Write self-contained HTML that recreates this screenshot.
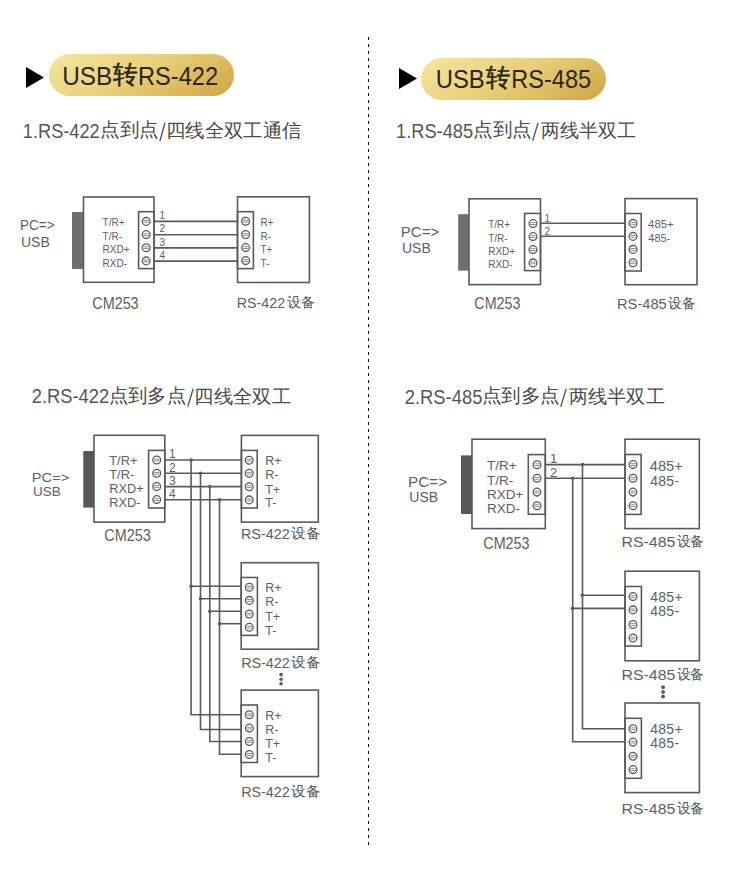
<!DOCTYPE html>
<html><head><meta charset="utf-8">
<style>
html,body{margin:0;padding:0;background:#fff;}
body{width:737px;height:875px;position:relative;overflow:hidden;font-family:"Liberation Sans",sans-serif;}
svg{position:absolute;left:0;top:0;}
svg text{font-family:"Liberation Sans",sans-serif;}
</style></head><body>
<svg width="737" height="875" viewBox="0 0 737 875">
<defs>
<linearGradient id="gold" x1="0" y1="0.3" x2="1" y2="0.7">
<stop offset="0" stop-color="#f3e29a"/>
<stop offset="0.5" stop-color="#e8ce76"/>
<stop offset="1" stop-color="#d3ab4b"/>
</linearGradient>
</defs>
<polygon points="26,67 44,77.5 26,88" fill="#000"/>
<rect x="49" y="54" width="185" height="42" rx="21" fill="url(#gold)"/>
<text x="62.25" y="84.65" font-size="26.5" fill="#2a2618" textLength="50.05" lengthAdjust="spacingAndGlyphs" >USB</text>
<text x="112.70" y="83.05" font-size="24.5" fill="#2a2618" textLength="24.70" lengthAdjust="spacingAndGlyphs" stroke="#2a2618" stroke-width="0.5">转</text>
<text x="138.00" y="84.65" font-size="26.5" fill="#2a2618" textLength="80.11" lengthAdjust="spacingAndGlyphs" >RS-422</text>
<polygon points="399,68 417,78.5 399,89" fill="#000"/>
<rect x="421" y="58" width="185" height="42" rx="21" fill="url(#gold)"/>
<text x="435.75" y="87.65" font-size="26.5" fill="#2a2618" textLength="49.00" lengthAdjust="spacingAndGlyphs" >USB</text>
<text x="485.80" y="86.40" font-size="24.5" fill="#2a2618" textLength="24.35" lengthAdjust="spacingAndGlyphs" stroke="#2a2618" stroke-width="0.5">转</text>
<text x="511.35" y="87.65" font-size="26.5" fill="#2a2618" textLength="79.71" lengthAdjust="spacingAndGlyphs" >RS-485</text>
<text x="22.85" y="137.70" font-size="20" fill="#555" textLength="76.90" lengthAdjust="spacingAndGlyphs" >1.RS-422</text>
<text x="99.95" y="135.65" font-size="19" fill="#4a4a4a" textLength="58.80" lengthAdjust="spacingAndGlyphs" >点到点</text>
<line x1="165.0" y1="122.7" x2="159.9" y2="141.0" stroke="#555" stroke-width="1.35"/>
<text x="165.85" y="136.80" font-size="19" fill="#4a4a4a" textLength="135.85" lengthAdjust="spacingAndGlyphs" >四线全双工通信</text>
<text x="396.00" y="137.65" font-size="20" fill="#555" textLength="77.10" lengthAdjust="spacingAndGlyphs" >1.RS-485</text>
<text x="473.00" y="135.65" font-size="19" fill="#4a4a4a" textLength="58.80" lengthAdjust="spacingAndGlyphs" >点到点</text>
<line x1="538.1" y1="122.7" x2="532.7" y2="140.8" stroke="#555" stroke-width="1.35"/>
<text x="540.70" y="136.55" font-size="19" fill="#4a4a4a" textLength="95.25" lengthAdjust="spacingAndGlyphs" >两线半双工</text>
<text x="31.85" y="403.35" font-size="20" fill="#555" textLength="77.30" lengthAdjust="spacingAndGlyphs" >2.RS-422</text>
<text x="108.55" y="401.80" font-size="19" fill="#4a4a4a" textLength="77.55" lengthAdjust="spacingAndGlyphs" >点到多点</text>
<line x1="193.2" y1="388.7" x2="187.8" y2="406.5" stroke="#555" stroke-width="1.35"/>
<text x="194.20" y="402.70" font-size="19" fill="#4a4a4a" textLength="96.90" lengthAdjust="spacingAndGlyphs" >四线全双工</text>
<text x="404.80" y="403.65" font-size="20" fill="#555" textLength="77.55" lengthAdjust="spacingAndGlyphs" >2.RS-485</text>
<text x="481.55" y="401.95" font-size="19" fill="#4a4a4a" textLength="78.35" lengthAdjust="spacingAndGlyphs" >点到多点</text>
<line x1="566.1" y1="388.7" x2="560.8" y2="406.9" stroke="#555" stroke-width="1.35"/>
<text x="568.70" y="402.85" font-size="19" fill="#4a4a4a" textLength="96.20" lengthAdjust="spacingAndGlyphs" >两线半双工</text>
<line x1="368.5" y1="37" x2="368.5" y2="848" stroke="#111" stroke-width="1.1" stroke-dasharray="3 4"/>
<text x="20.00" y="230.20" font-size="14" fill="#606060" textLength="34.56" lengthAdjust="spacingAndGlyphs" >PC=&gt;</text>
<text x="21" y="246.5" font-size="14" fill="#606060" >USB</text>
<rect x="72" y="212" width="11.5" height="57" fill="#6e6e6e"/>
<rect x="83.5" y="197" width="70.5" height="85.30000000000001" fill="none" stroke="#5a5a5a" stroke-width="1.6"/>
<rect x="138.6" y="211.7" width="15.400000000000006" height="56.900000000000034" fill="none" stroke="#5a5a5a" stroke-width="1.6"/>
<circle cx="146.2" cy="221.4" r="3.9" fill="#fff" stroke="#5a5a5a" stroke-width="1.3"/>
<line x1="143.5" y1="220.5" x2="148.89999999999998" y2="220.5" stroke="#707070" stroke-width="0.8"/>
<line x1="143.5" y1="222.3" x2="148.89999999999998" y2="222.3" stroke="#707070" stroke-width="0.8"/>
<circle cx="146.2" cy="234.6" r="3.9" fill="#fff" stroke="#5a5a5a" stroke-width="1.3"/>
<line x1="143.5" y1="233.7" x2="148.89999999999998" y2="233.7" stroke="#707070" stroke-width="0.8"/>
<line x1="143.5" y1="235.5" x2="148.89999999999998" y2="235.5" stroke="#707070" stroke-width="0.8"/>
<circle cx="146.2" cy="247.7" r="3.9" fill="#fff" stroke="#5a5a5a" stroke-width="1.3"/>
<line x1="143.5" y1="246.79999999999998" x2="148.89999999999998" y2="246.79999999999998" stroke="#707070" stroke-width="0.8"/>
<line x1="143.5" y1="248.6" x2="148.89999999999998" y2="248.6" stroke="#707070" stroke-width="0.8"/>
<circle cx="146.2" cy="260.9" r="3.9" fill="#fff" stroke="#5a5a5a" stroke-width="1.3"/>
<line x1="143.5" y1="260.0" x2="148.89999999999998" y2="260.0" stroke="#707070" stroke-width="0.8"/>
<line x1="143.5" y1="261.79999999999995" x2="148.89999999999998" y2="261.79999999999995" stroke="#707070" stroke-width="0.8"/>
<text x="102.6" y="226" font-size="10" fill="#606060" >T/R+</text>
<text x="102.6" y="239.5" font-size="10" fill="#606060" >T/R-</text>
<text x="102.6" y="253" font-size="10" fill="#606060" >RXD+</text>
<text x="102.6" y="266.6" font-size="10" fill="#606060" >RXD-</text>
<text x="159.5" y="219.1" font-size="10" fill="#606060" >1</text>
<text x="159.5" y="232.3" font-size="10" fill="#606060" >2</text>
<text x="159.5" y="245.5" font-size="10" fill="#606060" >3</text>
<text x="159.5" y="258.7" font-size="10" fill="#606060" >4</text>
<line x1="154" y1="221.4" x2="237.5" y2="221.4" stroke="#5a5a5a" stroke-width="1.6"/>
<line x1="154" y1="234.7" x2="237.5" y2="234.7" stroke="#5a5a5a" stroke-width="1.6"/>
<line x1="154" y1="247.9" x2="237.5" y2="247.9" stroke="#5a5a5a" stroke-width="1.6"/>
<line x1="154" y1="261.1" x2="237.5" y2="261.1" stroke="#5a5a5a" stroke-width="1.6"/>
<rect x="237.5" y="196.8" width="71.89999999999998" height="85.69999999999999" fill="none" stroke="#5a5a5a" stroke-width="1.6"/>
<rect x="237.5" y="211.7" width="15.900000000000006" height="56.900000000000034" fill="none" stroke="#5a5a5a" stroke-width="1.6"/>
<circle cx="245.6" cy="221.3" r="3.9" fill="#fff" stroke="#5a5a5a" stroke-width="1.3"/>
<line x1="242.9" y1="220.4" x2="248.29999999999998" y2="220.4" stroke="#707070" stroke-width="0.8"/>
<line x1="242.9" y1="222.20000000000002" x2="248.29999999999998" y2="222.20000000000002" stroke="#707070" stroke-width="0.8"/>
<circle cx="245.6" cy="234.5" r="3.9" fill="#fff" stroke="#5a5a5a" stroke-width="1.3"/>
<line x1="242.9" y1="233.6" x2="248.29999999999998" y2="233.6" stroke="#707070" stroke-width="0.8"/>
<line x1="242.9" y1="235.4" x2="248.29999999999998" y2="235.4" stroke="#707070" stroke-width="0.8"/>
<circle cx="245.6" cy="247.6" r="3.9" fill="#fff" stroke="#5a5a5a" stroke-width="1.3"/>
<line x1="242.9" y1="246.7" x2="248.29999999999998" y2="246.7" stroke="#707070" stroke-width="0.8"/>
<line x1="242.9" y1="248.5" x2="248.29999999999998" y2="248.5" stroke="#707070" stroke-width="0.8"/>
<circle cx="245.6" cy="260.6" r="3.9" fill="#fff" stroke="#5a5a5a" stroke-width="1.3"/>
<line x1="242.9" y1="259.70000000000005" x2="248.29999999999998" y2="259.70000000000005" stroke="#707070" stroke-width="0.8"/>
<line x1="242.9" y1="261.5" x2="248.29999999999998" y2="261.5" stroke="#707070" stroke-width="0.8"/>
<text x="260.4" y="226" font-size="10" fill="#606060" >R+</text>
<text x="260.4" y="239.5" font-size="10" fill="#606060" >R-</text>
<text x="260.4" y="253" font-size="10" fill="#606060" >T+</text>
<text x="260.4" y="266.6" font-size="10" fill="#606060" >T-</text>
<text x="92.35" y="308.60" font-size="16.5" fill="#606060" textLength="46.27" lengthAdjust="spacingAndGlyphs" >CM253</text>
<text x="236.70" y="308.10" font-size="14.5" fill="#606060" textLength="48.57" lengthAdjust="spacingAndGlyphs" >RS-422</text>
<text x="286.65" y="307.45" font-size="13.5" fill="#555" textLength="28.15" lengthAdjust="spacingAndGlyphs" >设备</text>
<text x="400.85" y="236.60" font-size="14" fill="#606060" textLength="38.36" lengthAdjust="spacingAndGlyphs" >PC=&gt;</text>
<text x="402" y="253.4" font-size="14" fill="#606060" >USB</text>
<rect x="458.2" y="214.2" width="10.800000000000011" height="56.400000000000034" fill="#6e6e6e"/>
<rect x="469" y="198.8" width="71.5" height="85.80000000000001" fill="none" stroke="#5a5a5a" stroke-width="1.6"/>
<rect x="524.6" y="213.4" width="15.899999999999977" height="57.20000000000002" fill="none" stroke="#5a5a5a" stroke-width="1.6"/>
<circle cx="533" cy="223.6" r="3.9" fill="#fff" stroke="#5a5a5a" stroke-width="1.3"/>
<line x1="530.3" y1="222.7" x2="535.7" y2="222.7" stroke="#707070" stroke-width="0.8"/>
<line x1="530.3" y1="224.5" x2="535.7" y2="224.5" stroke="#707070" stroke-width="0.8"/>
<circle cx="533" cy="236.6" r="3.9" fill="#fff" stroke="#5a5a5a" stroke-width="1.3"/>
<line x1="530.3" y1="235.7" x2="535.7" y2="235.7" stroke="#707070" stroke-width="0.8"/>
<line x1="530.3" y1="237.5" x2="535.7" y2="237.5" stroke="#707070" stroke-width="0.8"/>
<circle cx="533" cy="249.6" r="3.9" fill="#fff" stroke="#5a5a5a" stroke-width="1.3"/>
<line x1="530.3" y1="248.7" x2="535.7" y2="248.7" stroke="#707070" stroke-width="0.8"/>
<line x1="530.3" y1="250.5" x2="535.7" y2="250.5" stroke="#707070" stroke-width="0.8"/>
<circle cx="533" cy="262.9" r="3.9" fill="#fff" stroke="#5a5a5a" stroke-width="1.3"/>
<line x1="530.3" y1="262.0" x2="535.7" y2="262.0" stroke="#707070" stroke-width="0.8"/>
<line x1="530.3" y1="263.79999999999995" x2="535.7" y2="263.79999999999995" stroke="#707070" stroke-width="0.8"/>
<text x="488.2" y="228.3" font-size="10" fill="#606060" >T/R+</text>
<text x="488.2" y="241.7" font-size="10" fill="#606060" >T/R-</text>
<text x="488.2" y="254.9" font-size="10" fill="#606060" >RXD+</text>
<text x="488.2" y="268.4" font-size="10" fill="#606060" >RXD-</text>
<text x="544.5" y="221.5" font-size="10" fill="#606060" >1</text>
<text x="544.5" y="234.5" font-size="10" fill="#606060" >2</text>
<line x1="540.5" y1="223.2" x2="625" y2="223.2" stroke="#5a5a5a" stroke-width="1.6"/>
<line x1="540.5" y1="236.2" x2="625" y2="236.2" stroke="#5a5a5a" stroke-width="1.6"/>
<rect x="625" y="198.6" width="72" height="86.1" fill="none" stroke="#5a5a5a" stroke-width="1.6"/>
<rect x="625" y="213.5" width="16.200000000000045" height="57.5" fill="none" stroke="#5a5a5a" stroke-width="1.6"/>
<circle cx="633" cy="223.4" r="3.9" fill="#fff" stroke="#5a5a5a" stroke-width="1.3"/>
<line x1="630.3" y1="222.5" x2="635.7" y2="222.5" stroke="#707070" stroke-width="0.8"/>
<line x1="630.3" y1="224.3" x2="635.7" y2="224.3" stroke="#707070" stroke-width="0.8"/>
<circle cx="633" cy="236.4" r="3.9" fill="#fff" stroke="#5a5a5a" stroke-width="1.3"/>
<line x1="630.3" y1="235.5" x2="635.7" y2="235.5" stroke="#707070" stroke-width="0.8"/>
<line x1="630.3" y1="237.3" x2="635.7" y2="237.3" stroke="#707070" stroke-width="0.8"/>
<circle cx="633" cy="249.4" r="3.9" fill="#fff" stroke="#5a5a5a" stroke-width="1.3"/>
<line x1="630.3" y1="248.5" x2="635.7" y2="248.5" stroke="#707070" stroke-width="0.8"/>
<line x1="630.3" y1="250.3" x2="635.7" y2="250.3" stroke="#707070" stroke-width="0.8"/>
<circle cx="633" cy="262.8" r="3.9" fill="#fff" stroke="#5a5a5a" stroke-width="1.3"/>
<line x1="630.3" y1="261.90000000000003" x2="635.7" y2="261.90000000000003" stroke="#707070" stroke-width="0.8"/>
<line x1="630.3" y1="263.7" x2="635.7" y2="263.7" stroke="#707070" stroke-width="0.8"/>
<text x="648.10" y="227.90" font-size="11" fill="#606060" textLength="25.58" lengthAdjust="spacingAndGlyphs" >485+</text>
<text x="648.3" y="241.9" font-size="11" fill="#606060" >485-</text>
<text x="474.35" y="308.50" font-size="16.5" fill="#606060" textLength="46.02" lengthAdjust="spacingAndGlyphs" >CM253</text>
<text x="617.05" y="308.90" font-size="14.5" fill="#606060" textLength="49.67" lengthAdjust="spacingAndGlyphs" >RS-485</text>
<text x="668.30" y="308.25" font-size="13.5" fill="#555" textLength="27.50" lengthAdjust="spacingAndGlyphs" >设备</text>
<text x="31.80" y="481.90" font-size="13.5" fill="#606060" textLength="37.48" lengthAdjust="spacingAndGlyphs" >PC=&gt;</text>
<text x="32.9" y="496" font-size="13.5" fill="#606060" >USB</text>
<rect x="83.3" y="451" width="10.700000000000003" height="56.60000000000002" fill="#585858"/>
<rect x="94" y="435.3" width="70.80000000000001" height="86.80000000000001" fill="none" stroke="#5a5a5a" stroke-width="1.6"/>
<rect x="148.6" y="450.4" width="16.200000000000017" height="57.60000000000002" fill="none" stroke="#5a5a5a" stroke-width="1.6"/>
<circle cx="156.7" cy="460" r="3.9" fill="#fff" stroke="#5a5a5a" stroke-width="1.3"/>
<line x1="154.0" y1="459.1" x2="159.39999999999998" y2="459.1" stroke="#707070" stroke-width="0.8"/>
<line x1="154.0" y1="460.9" x2="159.39999999999998" y2="460.9" stroke="#707070" stroke-width="0.8"/>
<circle cx="156.7" cy="473.3" r="3.9" fill="#fff" stroke="#5a5a5a" stroke-width="1.3"/>
<line x1="154.0" y1="472.40000000000003" x2="159.39999999999998" y2="472.40000000000003" stroke="#707070" stroke-width="0.8"/>
<line x1="154.0" y1="474.2" x2="159.39999999999998" y2="474.2" stroke="#707070" stroke-width="0.8"/>
<circle cx="156.7" cy="486.5" r="3.9" fill="#fff" stroke="#5a5a5a" stroke-width="1.3"/>
<line x1="154.0" y1="485.6" x2="159.39999999999998" y2="485.6" stroke="#707070" stroke-width="0.8"/>
<line x1="154.0" y1="487.4" x2="159.39999999999998" y2="487.4" stroke="#707070" stroke-width="0.8"/>
<circle cx="156.7" cy="499.6" r="3.9" fill="#fff" stroke="#5a5a5a" stroke-width="1.3"/>
<line x1="154.0" y1="498.70000000000005" x2="159.39999999999998" y2="498.70000000000005" stroke="#707070" stroke-width="0.8"/>
<line x1="154.0" y1="500.5" x2="159.39999999999998" y2="500.5" stroke="#707070" stroke-width="0.8"/>
<text x="109.3" y="464.9" font-size="12.8" fill="#606060" >T/R+</text>
<text x="109.3" y="479" font-size="12.8" fill="#606060" >T/R-</text>
<text x="109.3" y="493" font-size="12.8" fill="#606060" >RXD+</text>
<text x="109.3" y="507.1" font-size="12.8" fill="#606060" >RXD-</text>
<text x="169" y="458.1" font-size="12" fill="#606060" >1</text>
<text x="169" y="472" font-size="12" fill="#606060" >2</text>
<text x="169" y="485.2" font-size="12" fill="#606060" >3</text>
<text x="169" y="498.4" font-size="12" fill="#606060" >4</text>
<line x1="164.8" y1="460" x2="241.4" y2="460" stroke="#5a5a5a" stroke-width="1.6"/>
<line x1="164.8" y1="473.2" x2="241.4" y2="473.2" stroke="#5a5a5a" stroke-width="1.6"/>
<line x1="164.8" y1="486.6" x2="241.4" y2="486.6" stroke="#5a5a5a" stroke-width="1.6"/>
<line x1="164.8" y1="499.8" x2="241.4" y2="499.8" stroke="#5a5a5a" stroke-width="1.6"/>
<polyline points="191.1,460 191.1,714.8 241.4,714.8" fill="none" stroke="#5a5a5a" stroke-width="1.6" stroke-linejoin="miter"/>
<circle cx="191.1" cy="460" r="1.8" fill="#5a5a5a"/>
<polyline points="200.5,473.2 200.5,729.5 241.4,729.5" fill="none" stroke="#5a5a5a" stroke-width="1.6" stroke-linejoin="miter"/>
<circle cx="200.5" cy="473.2" r="1.8" fill="#5a5a5a"/>
<polyline points="209.8,486.6 209.8,741.5 241.4,741.5" fill="none" stroke="#5a5a5a" stroke-width="1.6" stroke-linejoin="miter"/>
<circle cx="209.8" cy="486.6" r="1.8" fill="#5a5a5a"/>
<polyline points="219.5,499.8 219.5,754.3 241.4,754.3" fill="none" stroke="#5a5a5a" stroke-width="1.6" stroke-linejoin="miter"/>
<circle cx="219.5" cy="499.8" r="1.8" fill="#5a5a5a"/>
<line x1="191.1" y1="586.3" x2="241.4" y2="586.3" stroke="#5a5a5a" stroke-width="1.6"/>
<circle cx="191.1" cy="586.3" r="1.8" fill="#5a5a5a"/>
<line x1="200.5" y1="598.8" x2="241.4" y2="598.8" stroke="#5a5a5a" stroke-width="1.6"/>
<circle cx="200.5" cy="598.8" r="1.8" fill="#5a5a5a"/>
<line x1="209.8" y1="611.3" x2="241.4" y2="611.3" stroke="#5a5a5a" stroke-width="1.6"/>
<circle cx="209.8" cy="611.3" r="1.8" fill="#5a5a5a"/>
<line x1="219.5" y1="623.7" x2="241.4" y2="623.7" stroke="#5a5a5a" stroke-width="1.6"/>
<circle cx="219.5" cy="623.7" r="1.8" fill="#5a5a5a"/>
<rect x="241.4" y="435.4" width="76.9" height="86.70000000000005" fill="none" stroke="#5a5a5a" stroke-width="1.6"/>
<rect x="241.4" y="450.4" width="15.799999999999983" height="57.60000000000002" fill="none" stroke="#5a5a5a" stroke-width="1.6"/>
<circle cx="249.2" cy="460.2" r="3.9" fill="#fff" stroke="#5a5a5a" stroke-width="1.3"/>
<line x1="246.5" y1="459.3" x2="251.89999999999998" y2="459.3" stroke="#707070" stroke-width="0.8"/>
<line x1="246.5" y1="461.09999999999997" x2="251.89999999999998" y2="461.09999999999997" stroke="#707070" stroke-width="0.8"/>
<circle cx="249.2" cy="473.3" r="3.9" fill="#fff" stroke="#5a5a5a" stroke-width="1.3"/>
<line x1="246.5" y1="472.40000000000003" x2="251.89999999999998" y2="472.40000000000003" stroke="#707070" stroke-width="0.8"/>
<line x1="246.5" y1="474.2" x2="251.89999999999998" y2="474.2" stroke="#707070" stroke-width="0.8"/>
<circle cx="249.2" cy="486.7" r="3.9" fill="#fff" stroke="#5a5a5a" stroke-width="1.3"/>
<line x1="246.5" y1="485.8" x2="251.89999999999998" y2="485.8" stroke="#707070" stroke-width="0.8"/>
<line x1="246.5" y1="487.59999999999997" x2="251.89999999999998" y2="487.59999999999997" stroke="#707070" stroke-width="0.8"/>
<circle cx="249.2" cy="499.9" r="3.9" fill="#fff" stroke="#5a5a5a" stroke-width="1.3"/>
<line x1="246.5" y1="499.0" x2="251.89999999999998" y2="499.0" stroke="#707070" stroke-width="0.8"/>
<line x1="246.5" y1="500.79999999999995" x2="251.89999999999998" y2="500.79999999999995" stroke="#707070" stroke-width="0.8"/>
<text x="265.2" y="464.9" font-size="12.5" fill="#606060" >R+</text>
<text x="265.2" y="479.3" font-size="12.5" fill="#606060" >R-</text>
<text x="265.2" y="493.6" font-size="12.5" fill="#606060" >T+</text>
<text x="265.2" y="507.1" font-size="12.5" fill="#606060" >T-</text>
<text x="104.25" y="540.70" font-size="16.5" fill="#606060" textLength="46.45" lengthAdjust="spacingAndGlyphs" >CM253</text>
<text x="240.90" y="538.90" font-size="14.5" fill="#606060" textLength="48.82" lengthAdjust="spacingAndGlyphs" >RS-422</text>
<text x="290.85" y="538.25" font-size="13.5" fill="#555" textLength="29.35" lengthAdjust="spacingAndGlyphs" >设备</text>
<rect x="241.2" y="562.7" width="77.19999999999999" height="86.5" fill="none" stroke="#5a5a5a" stroke-width="1.6"/>
<rect x="241.2" y="577.5" width="16.19999999999999" height="57.89999999999998" fill="none" stroke="#5a5a5a" stroke-width="1.6"/>
<circle cx="249.3" cy="587.2" r="3.9" fill="#fff" stroke="#5a5a5a" stroke-width="1.3"/>
<line x1="246.60000000000002" y1="586.3000000000001" x2="252.0" y2="586.3000000000001" stroke="#707070" stroke-width="0.8"/>
<line x1="246.60000000000002" y1="588.1" x2="252.0" y2="588.1" stroke="#707070" stroke-width="0.8"/>
<circle cx="249.3" cy="600.4" r="3.9" fill="#fff" stroke="#5a5a5a" stroke-width="1.3"/>
<line x1="246.60000000000002" y1="599.5" x2="252.0" y2="599.5" stroke="#707070" stroke-width="0.8"/>
<line x1="246.60000000000002" y1="601.3" x2="252.0" y2="601.3" stroke="#707070" stroke-width="0.8"/>
<circle cx="249.3" cy="614" r="3.9" fill="#fff" stroke="#5a5a5a" stroke-width="1.3"/>
<line x1="246.60000000000002" y1="613.1" x2="252.0" y2="613.1" stroke="#707070" stroke-width="0.8"/>
<line x1="246.60000000000002" y1="614.9" x2="252.0" y2="614.9" stroke="#707070" stroke-width="0.8"/>
<circle cx="249.3" cy="627.2" r="3.9" fill="#fff" stroke="#5a5a5a" stroke-width="1.3"/>
<line x1="246.60000000000002" y1="626.3000000000001" x2="252.0" y2="626.3000000000001" stroke="#707070" stroke-width="0.8"/>
<line x1="246.60000000000002" y1="628.1" x2="252.0" y2="628.1" stroke="#707070" stroke-width="0.8"/>
<text x="265.2" y="591.8" font-size="12.5" fill="#606060" >R+</text>
<text x="265.2" y="606.3" font-size="12.5" fill="#606060" >R-</text>
<text x="265.2" y="620.8" font-size="12.5" fill="#606060" >T+</text>
<text x="265.2" y="634.9" font-size="12.5" fill="#606060" >T-</text>
<text x="241.20" y="667.55" font-size="14.5" fill="#606060" textLength="48.57" lengthAdjust="spacingAndGlyphs" >RS-422</text>
<text x="291.15" y="666.90" font-size="13.5" fill="#555" textLength="29.20" lengthAdjust="spacingAndGlyphs" >设备</text>
<circle cx="281.1" cy="674.6" r="1.8" fill="#5a5a5a"/>
<circle cx="281.1" cy="679.3" r="1.8" fill="#5a5a5a"/>
<circle cx="281.1" cy="683.8" r="1.8" fill="#5a5a5a"/>
<rect x="241.2" y="690.1" width="77.19999999999999" height="86.5" fill="none" stroke="#5a5a5a" stroke-width="1.6"/>
<rect x="241.2" y="705" width="16.19999999999999" height="57.5" fill="none" stroke="#5a5a5a" stroke-width="1.6"/>
<circle cx="249.3" cy="714.8" r="3.9" fill="#fff" stroke="#5a5a5a" stroke-width="1.3"/>
<line x1="246.60000000000002" y1="713.9" x2="252.0" y2="713.9" stroke="#707070" stroke-width="0.8"/>
<line x1="246.60000000000002" y1="715.6999999999999" x2="252.0" y2="715.6999999999999" stroke="#707070" stroke-width="0.8"/>
<circle cx="249.3" cy="728.1" r="3.9" fill="#fff" stroke="#5a5a5a" stroke-width="1.3"/>
<line x1="246.60000000000002" y1="727.2" x2="252.0" y2="727.2" stroke="#707070" stroke-width="0.8"/>
<line x1="246.60000000000002" y1="729.0" x2="252.0" y2="729.0" stroke="#707070" stroke-width="0.8"/>
<circle cx="249.3" cy="741.5" r="3.9" fill="#fff" stroke="#5a5a5a" stroke-width="1.3"/>
<line x1="246.60000000000002" y1="740.6" x2="252.0" y2="740.6" stroke="#707070" stroke-width="0.8"/>
<line x1="246.60000000000002" y1="742.4" x2="252.0" y2="742.4" stroke="#707070" stroke-width="0.8"/>
<circle cx="249.3" cy="754.5" r="3.9" fill="#fff" stroke="#5a5a5a" stroke-width="1.3"/>
<line x1="246.60000000000002" y1="753.6" x2="252.0" y2="753.6" stroke="#707070" stroke-width="0.8"/>
<line x1="246.60000000000002" y1="755.4" x2="252.0" y2="755.4" stroke="#707070" stroke-width="0.8"/>
<text x="265.2" y="719.6" font-size="12.5" fill="#606060" >R+</text>
<text x="265.2" y="734.1" font-size="12.5" fill="#606060" >R-</text>
<text x="265.2" y="747.9" font-size="12.5" fill="#606060" >T+</text>
<text x="265.2" y="762.3" font-size="12.5" fill="#606060" >T-</text>
<text x="241.20" y="796.90" font-size="14.5" fill="#606060" textLength="48.57" lengthAdjust="spacingAndGlyphs" >RS-422</text>
<text x="291.15" y="796.25" font-size="13.5" fill="#555" textLength="29.20" lengthAdjust="spacingAndGlyphs" >设备</text>
<text x="408.10" y="487.10" font-size="14" fill="#606060" textLength="39.16" lengthAdjust="spacingAndGlyphs" >PC=&gt;</text>
<text x="409.3" y="501.7" font-size="14" fill="#606060" >USB</text>
<rect x="461" y="455.4" width="11" height="58.60000000000002" fill="#585858"/>
<rect x="472" y="439.2" width="73.29999999999995" height="89.40000000000003" fill="none" stroke="#5a5a5a" stroke-width="1.6"/>
<rect x="528.3" y="454.6" width="17.0" height="59.69999999999993" fill="none" stroke="#5a5a5a" stroke-width="1.6"/>
<circle cx="537" cy="464.7" r="3.9" fill="#fff" stroke="#5a5a5a" stroke-width="1.3"/>
<line x1="534.3" y1="463.8" x2="539.7" y2="463.8" stroke="#707070" stroke-width="0.8"/>
<line x1="534.3" y1="465.59999999999997" x2="539.7" y2="465.59999999999997" stroke="#707070" stroke-width="0.8"/>
<circle cx="537" cy="478.3" r="3.9" fill="#fff" stroke="#5a5a5a" stroke-width="1.3"/>
<line x1="534.3" y1="477.40000000000003" x2="539.7" y2="477.40000000000003" stroke="#707070" stroke-width="0.8"/>
<line x1="534.3" y1="479.2" x2="539.7" y2="479.2" stroke="#707070" stroke-width="0.8"/>
<circle cx="537" cy="492.1" r="3.9" fill="#fff" stroke="#5a5a5a" stroke-width="1.3"/>
<line x1="534.3" y1="491.20000000000005" x2="539.7" y2="491.20000000000005" stroke="#707070" stroke-width="0.8"/>
<line x1="534.3" y1="493.0" x2="539.7" y2="493.0" stroke="#707070" stroke-width="0.8"/>
<circle cx="537" cy="505.7" r="3.9" fill="#fff" stroke="#5a5a5a" stroke-width="1.3"/>
<line x1="534.3" y1="504.8" x2="539.7" y2="504.8" stroke="#707070" stroke-width="0.8"/>
<line x1="534.3" y1="506.59999999999997" x2="539.7" y2="506.59999999999997" stroke="#707070" stroke-width="0.8"/>
<text x="487" y="470" font-size="13.5" fill="#606060" >T/R+</text>
<text x="487" y="485" font-size="13.5" fill="#606060" >T/R-</text>
<text x="487" y="498.7" font-size="13.5" fill="#606060" >RXD+</text>
<text x="487" y="512.8" font-size="13.5" fill="#606060" >RXD-</text>
<text x="549.9" y="463.2" font-size="13" fill="#606060" >1</text>
<text x="549.9" y="477.2" font-size="13" fill="#606060" >2</text>
<line x1="545.3" y1="464.6" x2="625" y2="464.6" stroke="#5a5a5a" stroke-width="1.6"/>
<line x1="545.3" y1="478.3" x2="625" y2="478.3" stroke="#5a5a5a" stroke-width="1.6"/>
<polyline points="582.5,464.6 582.5,728.8 625,728.8" fill="none" stroke="#5a5a5a" stroke-width="1.6" stroke-linejoin="miter"/>
<polyline points="572.7,478.3 572.7,741.7 625,741.7" fill="none" stroke="#5a5a5a" stroke-width="1.6" stroke-linejoin="miter"/>
<circle cx="582.5" cy="464.6" r="1.8" fill="#5a5a5a"/>
<circle cx="572.7" cy="478.3" r="1.8" fill="#5a5a5a"/>
<line x1="582.3" y1="595.2" x2="625" y2="595.2" stroke="#5a5a5a" stroke-width="1.6"/>
<circle cx="582.3" cy="595.2" r="1.8" fill="#5a5a5a"/>
<line x1="572.5" y1="608.4" x2="625" y2="608.4" stroke="#5a5a5a" stroke-width="1.6"/>
<circle cx="572.5" cy="608.4" r="1.8" fill="#5a5a5a"/>
<rect x="625" y="439.2" width="74.29999999999995" height="89.40000000000003" fill="none" stroke="#5a5a5a" stroke-width="1.6"/>
<rect x="625" y="454.5" width="16.100000000000023" height="59.89999999999998" fill="none" stroke="#5a5a5a" stroke-width="1.6"/>
<circle cx="633" cy="464.6" r="3.9" fill="#fff" stroke="#5a5a5a" stroke-width="1.3"/>
<line x1="630.3" y1="463.70000000000005" x2="635.7" y2="463.70000000000005" stroke="#707070" stroke-width="0.8"/>
<line x1="630.3" y1="465.5" x2="635.7" y2="465.5" stroke="#707070" stroke-width="0.8"/>
<circle cx="633" cy="478.2" r="3.9" fill="#fff" stroke="#5a5a5a" stroke-width="1.3"/>
<line x1="630.3" y1="477.3" x2="635.7" y2="477.3" stroke="#707070" stroke-width="0.8"/>
<line x1="630.3" y1="479.09999999999997" x2="635.7" y2="479.09999999999997" stroke="#707070" stroke-width="0.8"/>
<circle cx="633" cy="492.1" r="3.9" fill="#fff" stroke="#5a5a5a" stroke-width="1.3"/>
<line x1="630.3" y1="491.20000000000005" x2="635.7" y2="491.20000000000005" stroke="#707070" stroke-width="0.8"/>
<line x1="630.3" y1="493.0" x2="635.7" y2="493.0" stroke="#707070" stroke-width="0.8"/>
<circle cx="633" cy="505.7" r="3.9" fill="#fff" stroke="#5a5a5a" stroke-width="1.3"/>
<line x1="630.3" y1="504.8" x2="635.7" y2="504.8" stroke="#707070" stroke-width="0.8"/>
<line x1="630.3" y1="506.59999999999997" x2="635.7" y2="506.59999999999997" stroke="#707070" stroke-width="0.8"/>
<text x="649.80" y="470.60" font-size="14" fill="#606060" textLength="32.95" lengthAdjust="spacingAndGlyphs" >485+</text>
<text x="650.2" y="485.5" font-size="14" fill="#606060" letter-spacing="0.3">485-</text>
<text x="483.25" y="549.10" font-size="16.5" fill="#606060" textLength="46.35" lengthAdjust="spacingAndGlyphs" >CM253</text>
<text x="621.60" y="546.90" font-size="15" fill="#606060" textLength="53.71" lengthAdjust="spacingAndGlyphs" >RS-485</text>
<text x="676.65" y="545.90" font-size="14" fill="#555" textLength="27.65" lengthAdjust="spacingAndGlyphs" >设备</text>
<rect x="625" y="571.2" width="74.39999999999998" height="89.59999999999991" fill="none" stroke="#5a5a5a" stroke-width="1.6"/>
<rect x="625" y="586.5" width="16.399999999999977" height="59.60000000000002" fill="none" stroke="#5a5a5a" stroke-width="1.6"/>
<circle cx="633" cy="596.6" r="3.9" fill="#fff" stroke="#5a5a5a" stroke-width="1.3"/>
<line x1="630.3" y1="595.7" x2="635.7" y2="595.7" stroke="#707070" stroke-width="0.8"/>
<line x1="630.3" y1="597.5" x2="635.7" y2="597.5" stroke="#707070" stroke-width="0.8"/>
<circle cx="633" cy="609.9" r="3.9" fill="#fff" stroke="#5a5a5a" stroke-width="1.3"/>
<line x1="630.3" y1="609.0" x2="635.7" y2="609.0" stroke="#707070" stroke-width="0.8"/>
<line x1="630.3" y1="610.8" x2="635.7" y2="610.8" stroke="#707070" stroke-width="0.8"/>
<circle cx="633" cy="624.5" r="3.9" fill="#fff" stroke="#5a5a5a" stroke-width="1.3"/>
<line x1="630.3" y1="623.6" x2="635.7" y2="623.6" stroke="#707070" stroke-width="0.8"/>
<line x1="630.3" y1="625.4" x2="635.7" y2="625.4" stroke="#707070" stroke-width="0.8"/>
<circle cx="633" cy="638" r="3.9" fill="#fff" stroke="#5a5a5a" stroke-width="1.3"/>
<line x1="630.3" y1="637.1" x2="635.7" y2="637.1" stroke="#707070" stroke-width="0.8"/>
<line x1="630.3" y1="638.9" x2="635.7" y2="638.9" stroke="#707070" stroke-width="0.8"/>
<text x="650.2" y="601.5" font-size="14" fill="#606060" letter-spacing="0.3">485+</text>
<text x="650.2" y="616" font-size="14" fill="#606060" letter-spacing="0.3">485-</text>
<text x="621.60" y="679.95" font-size="15" fill="#606060" textLength="53.71" lengthAdjust="spacingAndGlyphs" >RS-485</text>
<text x="676.65" y="678.95" font-size="14" fill="#555" textLength="27.65" lengthAdjust="spacingAndGlyphs" >设备</text>
<circle cx="663.1" cy="687.2" r="1.9" fill="#5a5a5a"/>
<circle cx="663.1" cy="691.9" r="1.9" fill="#5a5a5a"/>
<circle cx="663.1" cy="696.5" r="1.9" fill="#5a5a5a"/>
<rect x="625" y="703" width="74.39999999999998" height="89.60000000000002" fill="none" stroke="#5a5a5a" stroke-width="1.6"/>
<rect x="625" y="718.3" width="16.399999999999977" height="60.0" fill="none" stroke="#5a5a5a" stroke-width="1.6"/>
<circle cx="633" cy="728.8" r="3.9" fill="#fff" stroke="#5a5a5a" stroke-width="1.3"/>
<line x1="630.3" y1="727.9" x2="635.7" y2="727.9" stroke="#707070" stroke-width="0.8"/>
<line x1="630.3" y1="729.6999999999999" x2="635.7" y2="729.6999999999999" stroke="#707070" stroke-width="0.8"/>
<circle cx="633" cy="742.1" r="3.9" fill="#fff" stroke="#5a5a5a" stroke-width="1.3"/>
<line x1="630.3" y1="741.2" x2="635.7" y2="741.2" stroke="#707070" stroke-width="0.8"/>
<line x1="630.3" y1="743.0" x2="635.7" y2="743.0" stroke="#707070" stroke-width="0.8"/>
<circle cx="633" cy="756.3" r="3.9" fill="#fff" stroke="#5a5a5a" stroke-width="1.3"/>
<line x1="630.3" y1="755.4" x2="635.7" y2="755.4" stroke="#707070" stroke-width="0.8"/>
<line x1="630.3" y1="757.1999999999999" x2="635.7" y2="757.1999999999999" stroke="#707070" stroke-width="0.8"/>
<circle cx="633" cy="769.6" r="3.9" fill="#fff" stroke="#5a5a5a" stroke-width="1.3"/>
<line x1="630.3" y1="768.7" x2="635.7" y2="768.7" stroke="#707070" stroke-width="0.8"/>
<line x1="630.3" y1="770.5" x2="635.7" y2="770.5" stroke="#707070" stroke-width="0.8"/>
<text x="650.2" y="733.8" font-size="14" fill="#606060" letter-spacing="0.3">485+</text>
<text x="650.2" y="748.3" font-size="14" fill="#606060" letter-spacing="0.3">485-</text>
<text x="621.60" y="813.90" font-size="15" fill="#606060" textLength="53.71" lengthAdjust="spacingAndGlyphs" >RS-485</text>
<text x="676.65" y="812.90" font-size="14" fill="#555" textLength="27.65" lengthAdjust="spacingAndGlyphs" >设备</text>
</svg>
</body></html>
